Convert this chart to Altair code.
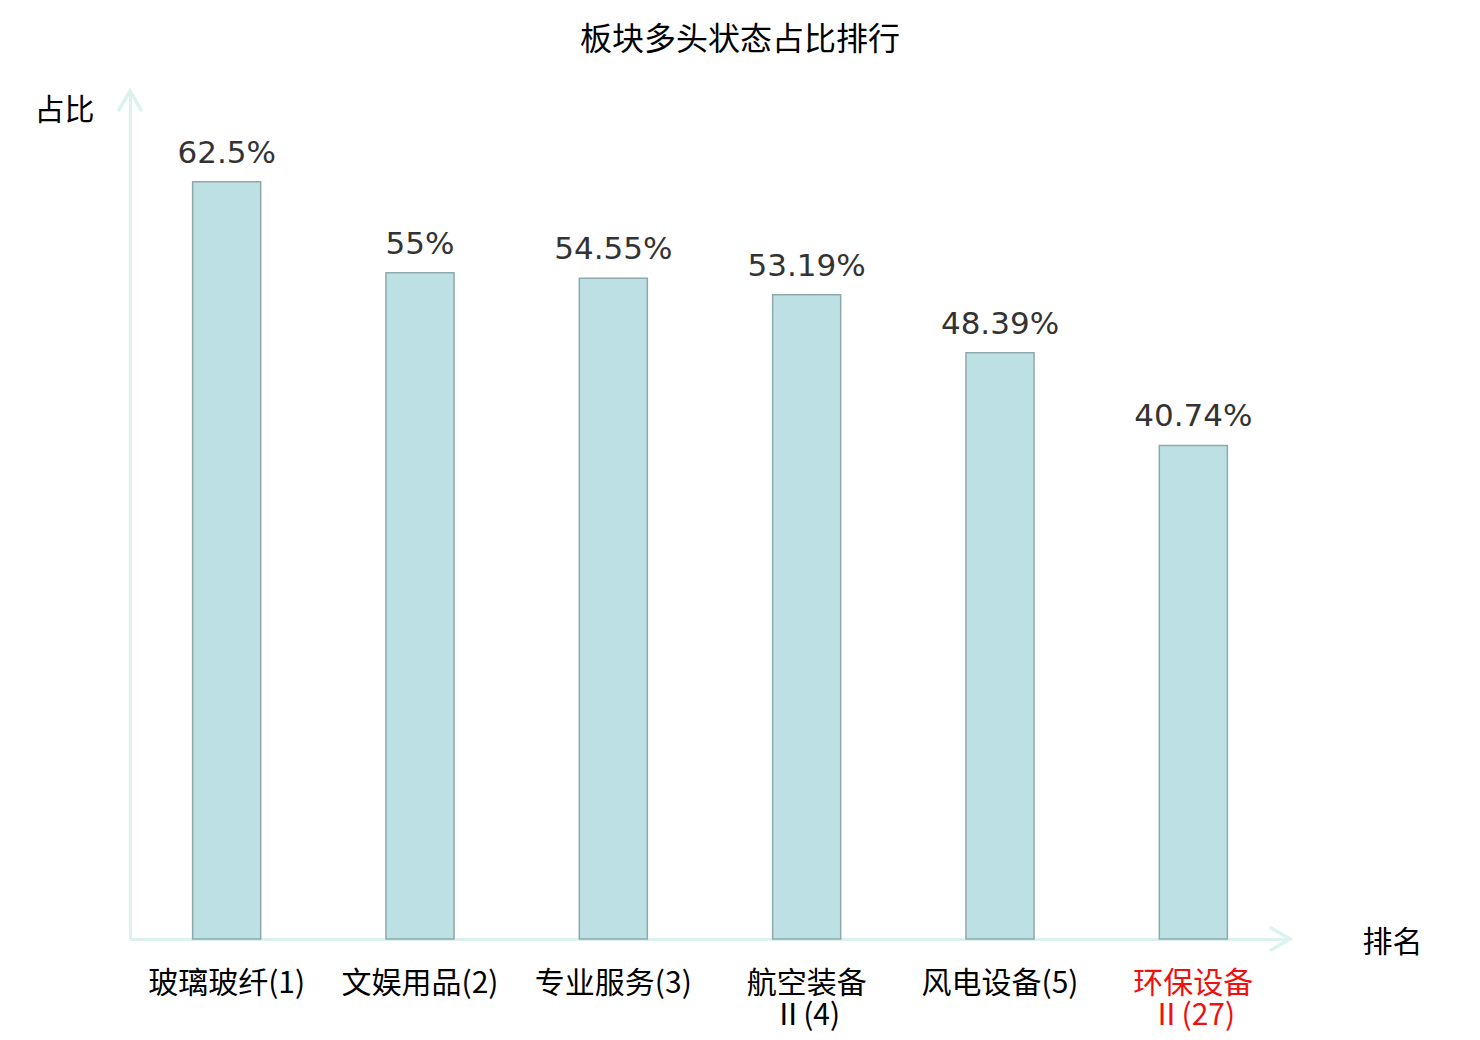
import altair as alt
import pandas as pd

categories = ["玻璃玻纤(1)", "文娱用品(2)", "专业服务(3)", "航空装备\nⅡ(4)", "风电设备(5)", "环保设备\nⅡ(27)"]
values = [62.5, 55, 54.55, 53.19, 48.39, 40.74]
value_labels = ["62.5%", "55%", "54.55%", "53.19%", "48.39%", "40.74%"]
highlight = "环保设备\nⅡ(27)"

CJK = "Noto Sans CJK SC"
AXIS_COLOR = "#dcf2ef"
W, H = 1160, 848

df = pd.DataFrame({"cat": categories, "val": values, "lab": value_labels})

x_enc = alt.X(
    "cat:N",
    sort=None,
    scale=alt.Scale(paddingInner=0.648, paddingOuter=0.324),
    axis=alt.Axis(
        title="排名",
        titleAngle=0,
        titleX=1262,
        titleY=3,
        titleAlign="center",
        titleBaseline="middle",
        titleFont=CJK,
        titleFontSize=30,
        titleFontWeight="normal",
        titleColor="#000",
        labelFont=CJK,
        labelFontSize=30,
        labelLineHeight=32,
        labelColor={"expr": f"datum.value == {highlight!r} ? '#f01010' : '#000'".replace("\n", "\\n")},
        labelExpr="split(datum.label, '\\n')",
        labelAngle=0,
        labelPadding=29,
        labelOverlap=False,
        labelLimit=400,
        ticks=False,
        tickSize=0,
        grid=False,
        domainColor=AXIS_COLOR,
        domainWidth=3,
    ),
)

y_scale = alt.Scale(domain=[0, 70])
y_axis = alt.Axis(
    title="占比",
    titleAngle=0,
    titleX=-66,
    titleY=19,
    titleAlign="center",
    titleBaseline="middle",
    titleFont=CJK,
    titleFontSize=30,
    titleFontWeight="normal",
    titleColor="#000",
    labels=False,
    ticks=False,
    tickSize=0,
    grid=False,
    domainColor=AXIS_COLOR,
    domainWidth=3,
)

base = alt.Chart(df)

bars = base.mark_bar(fill="#bce0e3", stroke="#8ea9aa", strokeWidth=1.5).encode(
    x=x_enc,
    y=alt.Y("val:Q", scale=y_scale, axis=y_axis),
)

texts = base.mark_text(
    font="DejaVu Sans", fontSize=31, color="#333333", align="center", baseline="alphabetic", dy=-19
).encode(
    x=alt.X("cat:N", sort=None),
    y=alt.Y("val:Q"),
    text="lab:N",
)

one = pd.DataFrame({"a": [0]})
up_arrow = alt.Chart(one).mark_point(
    shape="M-0.55,0.95L0,0L0.55,0.95", size=1600, filled=False, strokeWidth=3.5,
    color=AXIS_COLOR, opacity=1, strokeCap="round"
).encode(x=alt.value(0), y=alt.datum(70))

right_arrow = alt.Chart(one).mark_point(
    shape="M-0.95,-0.55L0,0L-0.95,0.55", size=1600, filled=False, strokeWidth=3.5,
    color=AXIS_COLOR, opacity=1, strokeCap="round"
).encode(x=alt.value(W), y=alt.datum(0))

chart = alt.layer(bars, texts, up_arrow, right_arrow).properties(
    width=W,
    height=H,
    autosize=alt.AutoSizeParams(type="none"),
    padding={"left": 122, "top": 83, "right": 182, "bottom": 93},
    title=alt.TitleParams(
        "板块多头状态占比排行",
        font=CJK,
        fontSize=32,
        fontWeight="normal",
        color="#000",
        anchor="middle",
        baseline="alphabetic",
        dx=30,
        offset=2,
    ),
).configure_view(strokeWidth=0)

chart.save("out.html", embed_options={"renderer": "svg", "actions": False})
